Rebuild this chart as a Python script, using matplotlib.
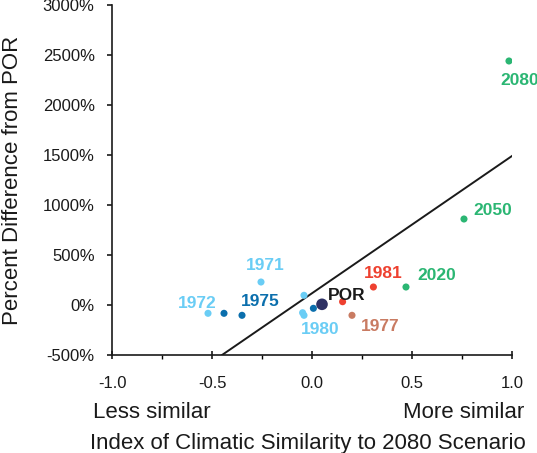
import matplotlib.pyplot as plt
from matplotlib.ticker import FuncFormatter, MultipleLocator

plt.rcParams["font.family"] = ["Liberation Sans", "DejaVu Sans"]

# scenario points: similarity index vs percent difference from POR
names = ["1971", "1972", "", "1975", "", "", "1980", "", "POR", "", "1981", "2020", "1977", "2050", "2080"]
sim = [-0.255, -0.52, -0.44, -0.35, -0.04, -0.047, -0.04, 0.007, 0.05, 0.153, 0.307, 0.47, 0.2, 0.76, 0.985]
pct = [230, -83, -83, -103, 97, -77, -103, -33, 7, 33, 180, 180, -103, 860, 2440]
groups = ["light", "light", "dark", "dark", "light", "light", "light", "dark", "por", "red", "red", "green", "brown", "green", "green"]

fit_x = [-0.45, 1.0]
fit_y = [-500, 1490]

colors = {
    "light": "#6acdf5",
    "dark": "#0b6fad",
    "por": "#2e3164",
    "red": "#ee4130",
    "brown": "#c97b62",
    "green": "#2bb673",
}
label_offsets = {
    "1971": (3, 12), "1972": (-8, 7), "1975": (13, 10), "1980": (12, -10),
    "POR": (18, 6.5), "1981": (7, 10), "2020": (22, 8), "1977": (20, -8),
    "2050": (21, 6), "2080": (8, -14),
}

fig = plt.figure(figsize=(5.37, 4.53), dpi=100)
ax = fig.add_axes([0.2086, 0.2163, 0.7448, 0.7727])

ax.plot(fit_x, fit_y, color="#1a1a1a", lw=1.4, zorder=1)

for n, x, y, g in zip(names, sim, pct, groups):
    size = 70 if g == "por" else 26
    ax.scatter(x, y, s=size, color=colors[g], edgecolors="none", zorder=3)
    if n:
        c = "#1a1a1a" if g == "por" else colors[g]
        ax.annotate(n, (x, y), xytext=label_offsets[n], textcoords="offset points",
                    ha="center", va="center", fontsize=12.5, fontweight="bold",
                    color=c, annotation_clip=False, zorder=4)

ax.set_xlim(-1.0, 1.0)
ax.set_ylim(-500, 3000)
ax.xaxis.set_major_locator(MultipleLocator(0.5))
ax.xaxis.set_minor_locator(MultipleLocator(0.25))
ax.yaxis.set_major_locator(MultipleLocator(500))
ax.yaxis.set_major_formatter(FuncFormatter(lambda v, p: f"{v:.0f}%"))
ax.xaxis.set_major_formatter(FuncFormatter(lambda v, p: f"{v:.1f}"))

for s in ["top", "right"]:
    ax.spines[s].set_visible(False)
for s in ["left", "bottom"]:
    ax.spines[s].set_color("#1a1a1a")
    ax.spines[s].set_linewidth(1.2)

ax.tick_params(axis="x", which="major", direction="inout", length=6, width=1.2,
               labelsize=12, pad=12, colors="#1a1a1a")
ax.tick_params(axis="x", which="minor", direction="out", length=3, width=1.0)
ax.tick_params(axis="y", which="major", direction="out", length=3.5, width=1.2,
               labelsize=12, pad=9, colors="#1a1a1a")

ax.set_ylabel("Percent Difference from POR", fontsize=16, color="#1a1a1a", va="center")
ax.yaxis.set_label_coords(-0.25, 0.5)
fig.text(0.173, 0.09, "Less similar", fontsize=16, color="#1a1a1a", ha="left", va="center")
fig.text(0.976, 0.09, "More similar", fontsize=16, color="#1a1a1a", ha="right", va="center")
fig.text(0.573, 0.022, "Index of Climatic Similarity to 2080 Scenario", fontsize=16,
         color="#1a1a1a", ha="center", va="center")

fig.savefig("out.png", dpi=100)
